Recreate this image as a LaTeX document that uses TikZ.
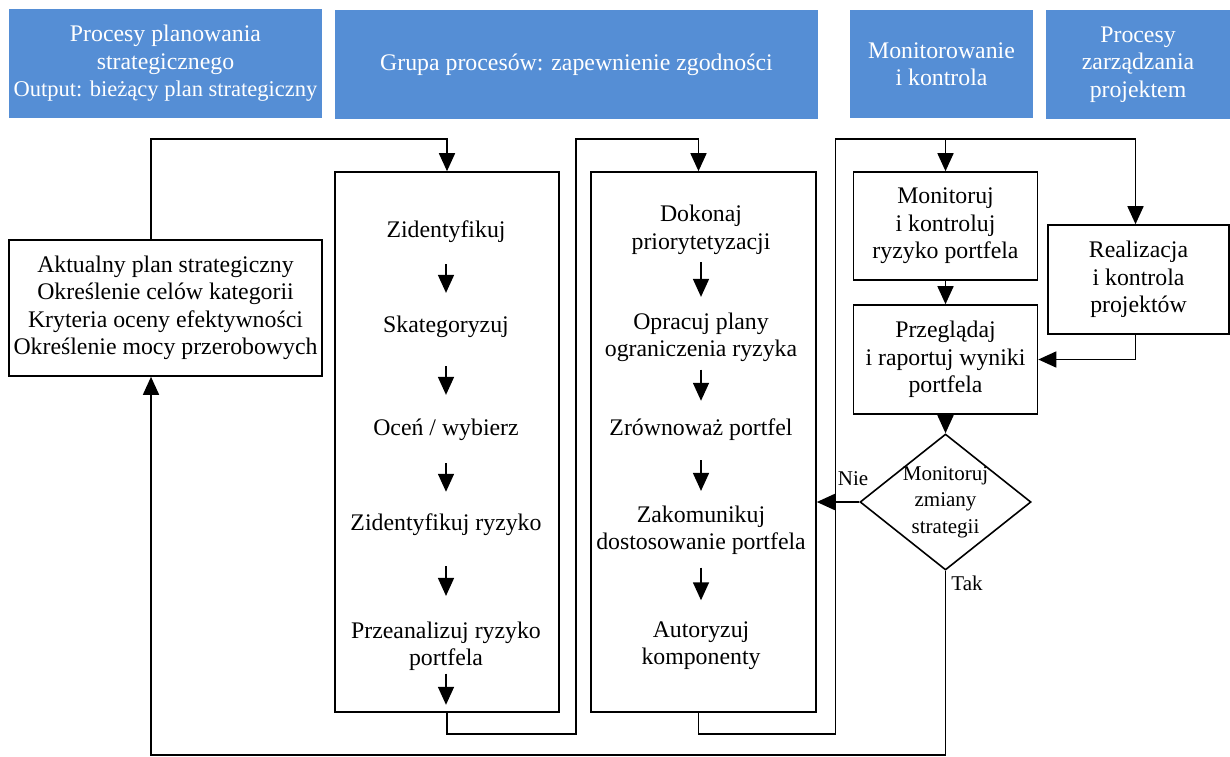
\documentclass[tikz,border=0pt]{standalone}
\usepackage{fontspec}
\setmainfont{Liberation Serif}
\usepackage{tikz}
\usetikzlibrary{arrows.meta,shapes.geometric}
\definecolor{headblue}{RGB}{85,142,213}
\tikzset{%
  head block/.style={
    fill=headblue,
    text=white,
    align=center,
    inner sep=0pt,
    font=\fontsize{23.8}{27.5}\selectfont
  },
  proc box/.style={
    draw,
    align=center,
    inner sep=0pt,
    font=\fontsize{23.8}{27.5}\selectfont
  },
  step text/.style={
    align=center,
    inner sep=0pt,
    font=\fontsize{23.8}{27.5}\selectfont
  },
  decision/.style={
    diamond,
    draw,
    minimum width=171pt,
    minimum height=136pt,
    inner sep=0pt
  },
  small text/.style={
    align=center,
    inner sep=0pt,
    font=\fontsize{21}{26.5}\selectfont
  },
}

\begin{document}
\begin{tikzpicture}[x=1pt, y=-1pt, > = {Triangle[length=18pt,width=16pt]}, line width=1.6pt]
\useasboundingbox (0,0) rectangle (1230,756);
% naglowki
\node[head block, minimum width=313pt, minimum height=109pt] (h_plan) at (165.5,63.5) {Procesy planowania\\strategicznego\\{\fontsize{22.5}{27.5}\selectfont Output: bieżący plan strategiczny}};
\node[head block, minimum width=483pt, minimum height=109pt] (h_zgod) at (576.5,64.5) {Grupa procesów: zapewnienie zgodności};
\node[head block, minimum width=183pt, minimum height=108pt] (h_mon) at (941.5,64) {Monitorowanie\\i kontrola};
\node[head block, minimum width=184pt, minimum height=109pt] (h_proj) at (1138,64.5) {Procesy\\zarządzania\\projektem};

% bloki
\node[proc box, minimum width=313pt, minimum height=136pt] (plan) at (165.5,308) {Aktualny plan strategiczny\\Określenie celów kategorii\\Kryteria oceny efektywności\\Określenie mocy przerobowych};
\node[proc box, minimum width=224pt, minimum height=540pt] (col1) at (447,442) {};
\node[proc box, minimum width=225pt, minimum height=540pt] (col2) at (703.5,442) {};
\node[proc box, minimum width=184pt, minimum height=108pt] (monbox) at (945.5,226) {Monitoruj\\i kontroluj\\ryzyko portfela};
\node[proc box, minimum width=184pt, minimum height=109pt] (rapbox) at (945.5,359.5) {Przeglądaj\\i raportuj wyniki\\portfela};
\node[proc box, minimum width=181pt, minimum height=109pt] (realbox) at (1138.5,279.5) {Realizacja\\i kontrola\\projektów};
\node[decision] (strat) at (945.5,502) {};
\node[small text] (strattxt) at (strat) {Monitoruj\\zmiany\\strategii};

% kroki
\node[step text] (s1) at (446,231.5) {Zidentyfikuj};
\node[step text] (s2) at (446,326.5) {Skategoryzuj};
\node[step text] (s3) at (446,429.5) {Oceń / wybierz};
\node[step text] (s4) at (446,524.5) {Zidentyfikuj ryzyko};
\node[step text] (s5) at (446,646.25) {Przeanalizuj ryzyko\\portfela};
\node[step text] (t1) at (701,229.75) {Dokonaj\\priorytetyzacji};
\node[step text] (t2) at (701,337.25) {Opracuj plany\\ograniczenia ryzyka};
\node[step text] (t3) at (701,429.5) {Zrównoważ portfel};
\node[step text] (t4) at (701,530.25) {Zakomunikuj\\dostosowanie portfela};
\node[step text] (t5) at (701,645.75) {Autoryzuj\\komponenty};

\foreach \a/\b/\s/\e in {s1/s2/21/22, s2/s3/28/23, s3/s4/22/21, s4/s5/30/25,
                         t1/t2/7/15, t2/t3/7/17, t3/t4/19/14, t4/t5/12/20.5}
    \draw[->, shorten <=\s pt, shorten >=\e pt] (\a) -- (\b);
\draw[->, shorten <=2pt, shorten >=8pt] (s5) -- (s5 |- col1.south);

% polaczenia
\coordinate (railA) at (576,139);
\coordinate (railB) at (835.5,139);
\draw[->] ([xshift=-14.5pt]plan.north) |- (col1.north |- railA) -- (col1.north);
\draw[->] (col1.south) -- ++(0,21) -| (railA) -| ([xshift=-5pt]col2.north);
\draw[->] ([xshift=-5pt]col2.south) -- ++(0,21) -| (railB) -| ([xshift=-3pt]realbox.north);
\draw[->] (railB -| monbox.north) -- (monbox.north);
\draw[->] (monbox) -- (rapbox);
\draw[->] ([xshift=-3pt]realbox.south) |- (rapbox.east);
\draw[->] (rapbox) -- (strat);
\draw[->] (strat.west) -- (strat.west -| col2.east);
\draw[->] (strat.south) -- ++(0,184) -| ([xshift=-14.5pt]plan.south);
\node[small text] (nie) at (853,479) {Nie};
\node[small text] (tak) at (967,583) {Tak};
\end{tikzpicture}
\end{document}
